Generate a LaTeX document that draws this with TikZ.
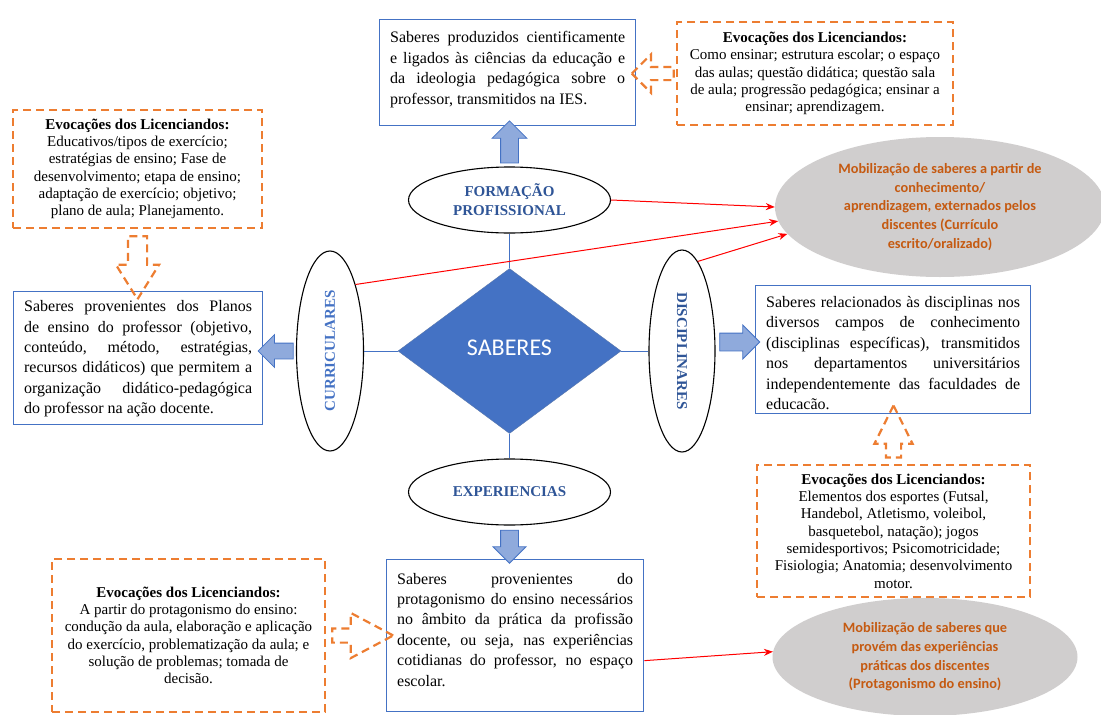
\documentclass[tikz,border=0pt]{standalone}
\usepackage{fontspec}
\usepackage{graphicx}
\setmainfont{Liberation Serif}
\newfontfamily\calibri{Carlito}
\usetikzlibrary{shapes.geometric,shapes.arrows,arrows.meta,calc}

\definecolor{azul}{HTML}{4472C4}
\definecolor{azulesc}{HTML}{2F5597}
\definecolor{azulcl}{HTML}{8FAADC}
\definecolor{laranja}{HTML}{ED7D31}
\definecolor{laranjaesc}{HTML}{C55A11}
\definecolor{cinza}{HTML}{D0CECE}

% texto justificado com altura fixa (largura, altura, texto)
\newcommand{\caixatexto}[3]{\begin{minipage}[t][#2pt][t]{#1pt}\tolerance=10000\hyphenpenalty=10000 #3\end{minipage}}

\begin{document}
\begin{tikzpicture}[x=1pt,y=-1pt]
    \tikzstyle{caixa} = [draw=azul, line width=1.3pt, anchor=north west, inner xsep=10.5pt, font=\fontsize{16}{20.4}\selectfont]
    \tikzstyle{evoc} = [draw=laranja, line width=2.2pt, dash pattern=on 8pt off 5pt, align=center, inner sep=0pt, font=\fontsize{15}{17.3}\selectfont]
    \tikzstyle{tipo} = [shape=ellipse, draw=black, line width=1.1pt, inner sep=0pt, align=center, text=azulesc, font=\fontsize{15}{19}\selectfont\bfseries]
    \tikzstyle{mob} = [shape=ellipse, fill=cinza, inner sep=0pt, align=center, text=laranjaesc, font=\calibri\fontsize{14.3}{18.6}\selectfont\bfseries]
    \tikzstyle{seta} = [single arrow, draw=azul, fill=azulcl, line width=0.8pt, inner xsep=0pt]
    \tikzstyle{setaev} = [single arrow, draw=laranja, line width=2.2pt, dash pattern=on 8pt off 5pt, inner xsep=0pt]
    \tikzstyle{liga} = [draw=azul, line width=1pt]
    \tikzstyle{mobseta} = [draw=red, line width=1pt, -{Stealth[length=9pt,width=7pt]}]

    \path [use as bounding box, fill=white] (0,0) rectangle (1101,715);

    % mobilizacao
    \node (mob1) [mob, minimum width=330pt, minimum height=140pt] at (940,207)
        {Mobilização de saberes a partir de\\conhecimento/\\aprendizagem, externados pelos\\discentes (Currículo\\escrito/oralizado)};
    \node (mob2) [mob, minimum width=305pt, minimum height=118pt] at (925,657)
        {Mobilização de saberes que\\provém das experiências\\práticas dos discentes\\(Protagonismo do ensino)};

    % saberes e tipos
    \node (sab) [shape=diamond, fill=azul, draw=azulesc!80, minimum width=223pt, minimum height=165pt, inner sep=0pt, aspect=1.35, text=white, font=\calibri\fontsize{24}{28}\selectfont] at (509.5,351) {\raisebox{6pt}{SABERES}};
    \node (form) [tipo, minimum width=202pt, minimum height=66pt] at (509.5,200) {FORMAÇÃO\\PROFISSIONAL};
    \node (exp)  [tipo, minimum width=202pt, minimum height=66pt] at (509.5,492) {EXPERIENCIAS};
    \node (curr) [tipo, minimum width=67pt, minimum height=200pt, text=azul] at (330,351) {\rotatebox{90}{CURRICULARES}};
    \node (disc) [tipo, minimum width=66pt, minimum height=202pt] at (682,351) {\rotatebox{-90}{DISCIPLINARES}};

    \draw [liga] (sab.north) -- (form.south);
    \draw [liga] (sab.south) -- (exp.north);
    \draw [liga] (sab.west)  -- (curr.east);
    \draw [liga] (sab.east)  -- (disc.west);

    % caixas dos saberes
    \node (tbox) [caixa, inner ysep=12pt] at (379,19) {\caixatexto{235}{82}{Saberes produzidos cientificamente\linebreak e ligados às ciências da educação e\linebreak da ideologia pedagógica sobre o\linebreak professor, transmitidos na IES.}};
    \node (lbox) [caixa, inner ysep=9pt] at (13,291) {\caixatexto{228}{115}{Saberes provenientes dos Planos\linebreak de ensino do professor (objetivo,\linebreak conteúdo, método, estratégias,\linebreak recursos didáticos) que permitem a\linebreak organização didático-pedagógica\linebreak do professor na ação docente.}};
    \node (rbox) [caixa, inner ysep=10.8pt] at (755,285) {\caixatexto{254}{106.4}{Saberes relacionados às disciplinas nos\linebreak diversos campos de conhecimento\linebreak (disciplinas específicas), transmitidos\linebreak nos departamentos universitários\linebreak independentemente das faculdades de\linebreak educacão.}};
    \node (bbox) [caixa, inner ysep=13.4pt] at (386,559) {\caixatexto{236}{125.2}{Saberes provenientes do\linebreak protagonismo do ensino necessários\linebreak no âmbito da prática da profissão\linebreak docente, ou seja, nas experiências\linebreak cotidianas do professor, no espaço\linebreak escolar.}};

    % evocacoes
    \node (eForm) [evoc, minimum width=276pt, minimum height=103pt] at (815,73.5)
        {\textbf{Evocações dos Licenciandos:}\\Como ensinar; estrutura escolar; o espaço\\das aulas; questão didática; questão sala\\de aula; progressão pedagógica; ensinar a\\ensinar; aprendizagem.};
    \node (eCurr) [evoc, minimum width=249pt, minimum height=118pt] at (137.5,169)
        {\textbf{Evocações dos Licenciandos:}\\Educativos/tipos de exercício;\\estratégias de ensino; Fase de\\desenvolvimento; etapa de ensino;\\adaptação de exercício; objetivo;\\plano de aula; Planejamento.};
    \node (eDisc) [evoc, minimum width=273pt, minimum height=132pt] at (893.5,531)
        {\textbf{Evocações dos Licenciandos:}\\Elementos dos esportes (Futsal,\\Handebol, Atletismo, voleibol,\\basquetebol, natação); jogos\\semidesportivos; Psicomotricidade;\\Fisiologia; Anatomia; desenvolvimento\\motor.};
    \node (eExp) [evoc, minimum width=273pt, minimum height=153pt] at (188.5,635.5)
        {\textbf{Evocações dos Licenciandos:}\\A partir do protagonismo do ensino:\\condução da aula, elaboração e aplicação\\do exercício, problematização da aula; e\\solução de problemas; tomada de\\decisão.};

    % setas azuis
    \node (aForm) [seta, rotate=90, minimum height=42pt, minimum width=34pt, inner ysep=8.5pt, single arrow head extend=8.5pt] at ($(form.north)!0.5!(form.north |- tbox.south)$) {};
    \node (aCurr) [seta, rotate=180, minimum height=35pt, minimum width=32pt, inner ysep=7.5pt, single arrow head extend=8.5pt] at ($(curr.west)!0.5!(curr.west -| lbox.east)$) {};
    \node (aDisc) [seta, minimum height=40pt, minimum width=33pt, inner ysep=8.5pt, single arrow head extend=8pt] at ($([yshift=9pt]disc.east)!0.5!([yshift=9pt]disc.east -| rbox.west)$) {};
    \node (aExp) [seta, rotate=-90, minimum height=33pt, minimum width=32pt, inner ysep=8.5pt, single arrow head extend=7.5pt] at ($(exp.south)!0.5!(exp.south |- bbox.north)$) {};

    % setas tracejadas
    \node (eaForm) [setaev, rotate=180, minimum height=42pt, minimum width=36pt, inner ysep=5.5pt, single arrow head extend=12.5pt] at ($(eForm.west)!0.5!(eForm.west -| tbox.east)$) {};
    \node (eaCurr) [setaev, rotate=-90, minimum height=63pt, minimum width=41pt, inner ysep=8.5pt, single arrow head extend=12pt, single arrow tip angle=64] at ($(eCurr.south)!0.5!(eCurr.south |- lbox.north)$) {};
    \node (eaDisc) [setaev, rotate=90, minimum height=52pt, minimum width=36pt, inner ysep=6.5pt, single arrow head extend=11.5pt, single arrow tip angle=53] at ($(eDisc.north)!0.5!(eDisc.north |- rbox.south)$) {};
    \node (eaExp) [setaev, minimum height=61pt, minimum width=43pt, inner ysep=6pt, single arrow head extend=15.5pt, single arrow tip angle=56] at ($(eExp.east)!0.5!(eExp.east -| bbox.west)$) {};

    % setas vermelhas
    \draw [mobseta] (form.east) -- (mob1.180);
    \draw [mobseta] (curr.69) -- (mob1.185);
    \draw [mobseta] (disc.80) -- (mob1.190);
    \draw [mobseta] ([yshift=-25pt]bbox.east) -- (mob2.178);
\end{tikzpicture}
\end{document}
